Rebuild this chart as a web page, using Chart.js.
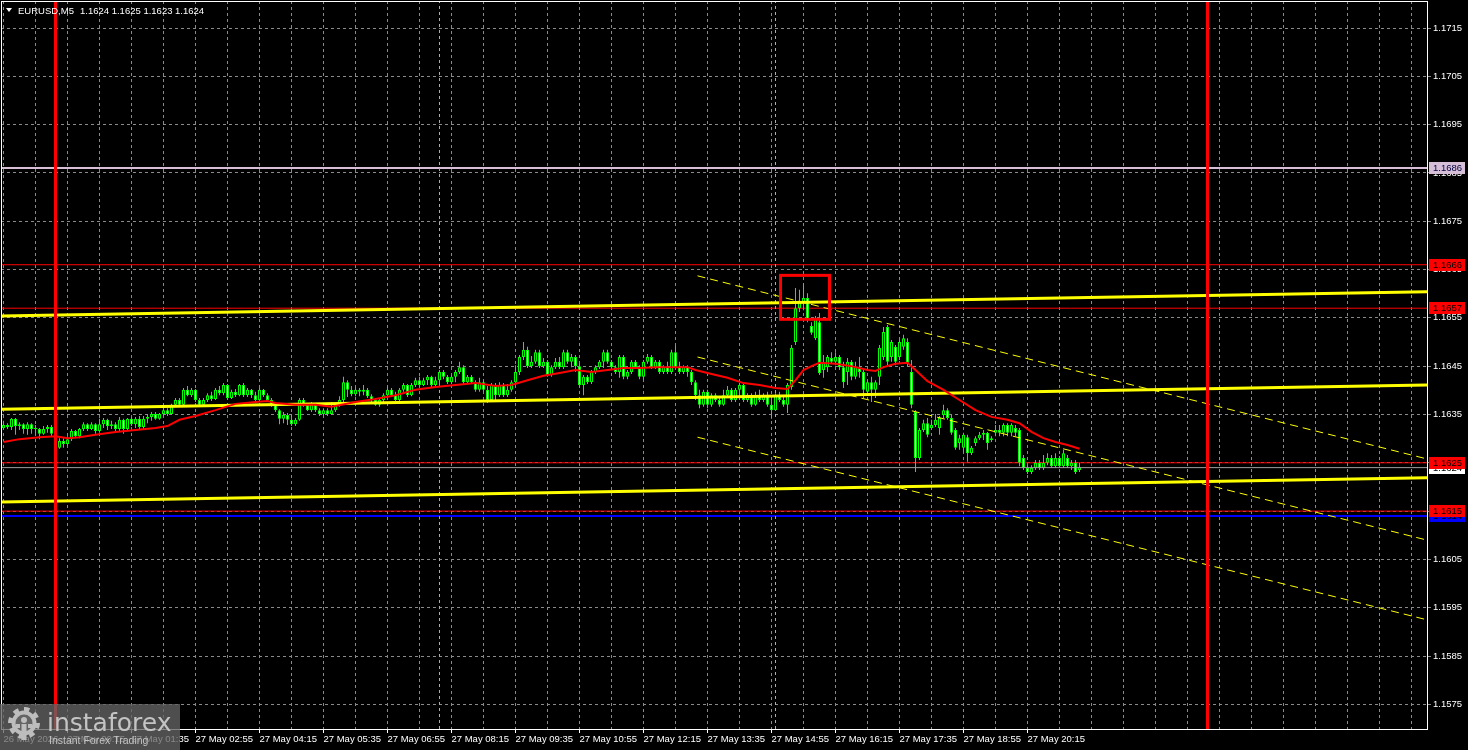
<!DOCTYPE html>
<html>
<head>
<meta charset="utf-8">
<script src="https://cdn.jsdelivr.net/npm/chart.js@4.4.1/dist/chart.umd.min.js"></script>
<style>html,body{margin:0;padding:0;background:#000;overflow:hidden}canvas{display:block}</style>
</head>
<body>
<canvas id="c" width="1468" height="750"></canvas>
<script>
// ---------------- data ----------------
const symbolTitle = 'EURUSD,M5';
const titleQuote = ['1.1624', '1.1625', '1.1623', '1.1624'];
// 5-minute bars, counted from 27 May 00:00 (bar 0); first bar is 26 May 22:55
const firstBar = -13;
const opens = [
1.16322,1.16328,1.16324,1.16341,1.16326,1.16330,1.16320,1.16330,1.16320,1.16320,
1.16310,1.16320,1.16324,1.16310,1.16281,1.16295,1.16289,1.16299,1.16316,1.16305,
1.16320,1.16330,1.16320,1.16330,1.16316,1.16330,1.16339,1.16326,1.16330,1.16320,
1.16339,1.16320,1.16341,1.16330,1.16341,1.16324,1.16341,1.16345,1.16351,1.16341,
1.16351,1.16359,1.16351,1.16370,1.16380,1.16370,1.16401,1.16390,1.16401,1.16380,
1.16370,1.16380,1.16390,1.16382,1.16401,1.16394,1.16411,1.16384,1.16397,1.16390,
1.16411,1.16390,1.16401,1.16390,1.16380,1.16401,1.16390,1.16380,1.16370,1.16359,
1.16341,1.16349,1.16339,1.16330,1.16339,1.16380,1.16370,1.16359,1.16370,1.16359,
1.16351,1.16359,1.16351,1.16359,1.16370,1.16380,1.16417,1.16401,1.16392,1.16401,
1.16397,1.16401,1.16388,1.16380,1.16370,1.16380,1.16390,1.16401,1.16390,1.16380,
1.16401,1.16411,1.16390,1.16411,1.16421,1.16411,1.16421,1.16428,1.16411,1.16421,
1.16438,1.16428,1.16417,1.16428,1.16438,1.16448,1.16417,1.16428,1.16417,1.16401,
1.16417,1.16401,1.16380,1.16411,1.16390,1.16411,1.16390,1.16401,1.16417,1.16438,
1.16469,1.16484,1.16450,1.16459,1.16479,1.16450,1.16459,1.16432,1.16448,1.16459,
1.16448,1.16479,1.16459,1.16469,1.16450,1.16411,1.16428,1.16417,1.16438,1.16448,
1.16459,1.16479,1.16459,1.16448,1.16438,1.16469,1.16428,1.16438,1.16459,1.16448,
1.16428,1.16459,1.16469,1.16448,1.16459,1.16438,1.16448,1.16438,1.16479,1.16448,
1.16438,1.16448,1.16438,1.16417,1.16390,1.16370,1.16397,1.16370,1.16390,1.16380,
1.16370,1.16390,1.16401,1.16380,1.16401,1.16411,1.16380,1.16390,1.16370,1.16390,
1.16380,1.16390,1.16370,1.16359,1.16390,1.16380,1.16370,1.16407,1.16500,1.16570,
1.16583,1.16591,1.16533,1.16508,1.16541,1.16442,1.16448,1.16467,1.16459,1.16469,
1.16448,1.16438,1.16459,1.16428,1.16448,1.16438,1.16397,1.16417,1.16401,1.16428,
1.16469,1.16531,1.16469,1.16490,1.16469,1.16490,1.16500,1.16438,1.16355,1.16260,
1.16318,1.16332,1.16322,1.16328,1.16322,1.16349,1.16359,1.16343,1.16318,1.16291,
1.16281,1.16303,1.16270,1.16291,1.16301,1.16308,1.16312,1.16301,1.16312,1.16318,
1.16312,1.16328,1.16312,1.16322,1.16318,1.16260,1.16239,1.16231,1.16239,1.16250,
1.16239,1.16250,1.16260,1.16243,1.16260,1.16243,1.16260,1.16243,1.16250,1.16235];
const highs = [
1.16337,1.16332,1.16343,1.16343,1.16334,1.16332,1.16334,1.16332,1.16328,1.16322,
1.16326,1.16328,1.16328,1.16312,1.16301,1.16301,1.16305,1.16320,1.16318,1.16322,
1.16334,1.16332,1.16334,1.16332,1.16341,1.16343,1.16341,1.16337,1.16334,1.16345,
1.16341,1.16343,1.16345,1.16345,1.16347,1.16347,1.16351,1.16355,1.16355,1.16353,
1.16366,1.16363,1.16372,1.16384,1.16384,1.16405,1.16409,1.16405,1.16403,1.16384,
1.16384,1.16394,1.16397,1.16405,1.16409,1.16415,1.16413,1.16401,1.16403,1.16413,
1.16415,1.16405,1.16403,1.16397,1.16405,1.16403,1.16394,1.16384,1.16374,1.16361,
1.16355,1.16353,1.16349,1.16343,1.16384,1.16384,1.16374,1.16376,1.16372,1.16363,
1.16363,1.16363,1.16376,1.16374,1.16388,1.16428,1.16421,1.16409,1.16407,1.16405,
1.16411,1.16405,1.16392,1.16384,1.16384,1.16394,1.16409,1.16405,1.16397,1.16405,
1.16415,1.16413,1.16415,1.16426,1.16428,1.16426,1.16432,1.16430,1.16428,1.16442,
1.16442,1.16432,1.16432,1.16442,1.16459,1.16452,1.16432,1.16432,1.16421,1.16426,
1.16421,1.16409,1.16415,1.16415,1.16417,1.16415,1.16413,1.16421,1.16452,1.16473,
1.16500,1.16490,1.16471,1.16484,1.16484,1.16467,1.16463,1.16452,1.16467,1.16469,
1.16484,1.16484,1.16475,1.16473,1.16455,1.16432,1.16432,1.16442,1.16452,1.16463,
1.16484,1.16484,1.16463,1.16452,1.16473,1.16473,1.16442,1.16463,1.16463,1.16452,
1.16463,1.16475,1.16473,1.16463,1.16463,1.16452,1.16459,1.16484,1.16492,1.16459,
1.16452,1.16452,1.16442,1.16421,1.16401,1.16401,1.16401,1.16394,1.16394,1.16384,
1.16401,1.16409,1.16405,1.16405,1.16415,1.16413,1.16394,1.16394,1.16397,1.16401,
1.16394,1.16397,1.16384,1.16394,1.16397,1.16390,1.16415,1.16494,1.16612,1.16608,
1.16622,1.16601,1.16541,1.16554,1.16560,1.16473,1.16473,1.16479,1.16479,1.16473,
1.16459,1.16467,1.16463,1.16459,1.16469,1.16442,1.16421,1.16428,1.16421,1.16494,
1.16531,1.16535,1.16504,1.16494,1.16508,1.16515,1.16508,1.16463,1.16359,1.16322,
1.16339,1.16343,1.16339,1.16351,1.16347,1.16370,1.16363,1.16349,1.16322,1.16308,
1.16312,1.16308,1.16285,1.16305,1.16314,1.16318,1.16314,1.16305,1.16328,1.16328,
1.16332,1.16332,1.16332,1.16328,1.16322,1.16266,1.16245,1.16245,1.16256,1.16256,
1.16266,1.16270,1.16266,1.16270,1.16264,1.16277,1.16266,1.16256,1.16256,1.16250];
const lows = [
1.16318,1.16320,1.16318,1.16308,1.16318,1.16310,1.16308,1.16310,1.16308,1.16299,
1.16308,1.16312,1.16305,1.16277,1.16279,1.16281,1.16285,1.16295,1.16301,1.16301,
1.16316,1.16316,1.16318,1.16310,1.16312,1.16322,1.16318,1.16320,1.16316,1.16316,
1.16310,1.16316,1.16326,1.16322,1.16318,1.16320,1.16332,1.16337,1.16339,1.16339,
1.16347,1.16347,1.16349,1.16368,1.16366,1.16368,1.16388,1.16386,1.16376,1.16366,
1.16368,1.16376,1.16378,1.16380,1.16390,1.16390,1.16380,1.16382,1.16386,1.16388,
1.16386,1.16386,1.16384,1.16376,1.16378,1.16386,1.16376,1.16366,1.16355,1.16330,
1.16332,1.16328,1.16326,1.16326,1.16337,1.16366,1.16357,1.16355,1.16355,1.16347,
1.16347,1.16347,1.16349,1.16355,1.16366,1.16376,1.16386,1.16388,1.16388,1.16388,
1.16390,1.16384,1.16376,1.16368,1.16366,1.16376,1.16386,1.16388,1.16378,1.16376,
1.16397,1.16386,1.16388,1.16407,1.16407,1.16409,1.16411,1.16407,1.16409,1.16409,
1.16423,1.16413,1.16413,1.16417,1.16434,1.16413,1.16413,1.16413,1.16397,1.16397,
1.16397,1.16374,1.16376,1.16380,1.16386,1.16386,1.16386,1.16397,1.16411,1.16432,
1.16463,1.16446,1.16446,1.16455,1.16446,1.16446,1.16428,1.16428,1.16444,1.16444,
1.16444,1.16455,1.16448,1.16438,1.16405,1.16390,1.16413,1.16413,1.16434,1.16444,
1.16446,1.16455,1.16444,1.16434,1.16426,1.16423,1.16423,1.16434,1.16444,1.16423,
1.16423,1.16455,1.16444,1.16444,1.16434,1.16434,1.16434,1.16434,1.16444,1.16434,
1.16434,1.16428,1.16411,1.16380,1.16363,1.16366,1.16363,1.16366,1.16376,1.16366,
1.16368,1.16386,1.16376,1.16376,1.16380,1.16376,1.16376,1.16366,1.16368,1.16376,
1.16376,1.16366,1.16341,1.16357,1.16376,1.16366,1.16353,1.16401,1.16494,1.16562,
1.16566,1.16541,1.16515,1.16504,1.16432,1.16426,1.16438,1.16455,1.16452,1.16442,
1.16405,1.16411,1.16421,1.16423,1.16426,1.16384,1.16390,1.16376,1.16384,1.16411,
1.16463,1.16452,1.16459,1.16452,1.16463,1.16484,1.16450,1.16363,1.16231,1.16256,
1.16314,1.16303,1.16318,1.16324,1.16308,1.16343,1.16339,1.16308,1.16277,1.16277,
1.16272,1.16252,1.16266,1.16285,1.16297,1.16297,1.16277,1.16293,1.16305,1.16305,
1.16305,1.16305,1.16305,1.16305,1.16243,1.16235,1.16227,1.16227,1.16235,1.16235,
1.16235,1.16245,1.16239,1.16239,1.16239,1.16239,1.16239,1.16235,1.16227,1.16231];
const closes = [
1.16328,1.16324,1.16341,1.16326,1.16330,1.16320,1.16330,1.16320,1.16320,1.16310,
1.16320,1.16324,1.16310,1.16281,1.16295,1.16289,1.16299,1.16316,1.16305,1.16320,
1.16330,1.16320,1.16330,1.16316,1.16330,1.16339,1.16326,1.16330,1.16320,1.16339,
1.16320,1.16341,1.16330,1.16341,1.16324,1.16341,1.16345,1.16351,1.16341,1.16351,
1.16359,1.16351,1.16370,1.16380,1.16370,1.16401,1.16390,1.16401,1.16380,1.16370,
1.16380,1.16390,1.16382,1.16401,1.16394,1.16411,1.16384,1.16397,1.16390,1.16411,
1.16390,1.16401,1.16390,1.16380,1.16401,1.16390,1.16380,1.16370,1.16359,1.16341,
1.16349,1.16339,1.16330,1.16339,1.16380,1.16370,1.16359,1.16370,1.16359,1.16351,
1.16359,1.16351,1.16359,1.16370,1.16380,1.16417,1.16401,1.16392,1.16401,1.16397,
1.16401,1.16388,1.16380,1.16370,1.16380,1.16390,1.16401,1.16390,1.16380,1.16401,
1.16411,1.16390,1.16411,1.16421,1.16411,1.16421,1.16428,1.16411,1.16421,1.16438,
1.16428,1.16417,1.16428,1.16438,1.16448,1.16417,1.16428,1.16417,1.16401,1.16417,
1.16401,1.16380,1.16411,1.16390,1.16411,1.16390,1.16401,1.16417,1.16438,1.16469,
1.16484,1.16450,1.16459,1.16479,1.16450,1.16459,1.16432,1.16448,1.16459,1.16448,
1.16479,1.16459,1.16469,1.16450,1.16411,1.16428,1.16417,1.16438,1.16448,1.16459,
1.16479,1.16459,1.16448,1.16438,1.16469,1.16428,1.16438,1.16459,1.16448,1.16428,
1.16459,1.16469,1.16448,1.16459,1.16438,1.16448,1.16438,1.16479,1.16448,1.16438,
1.16448,1.16438,1.16417,1.16390,1.16370,1.16397,1.16370,1.16390,1.16380,1.16370,
1.16390,1.16401,1.16380,1.16401,1.16411,1.16380,1.16390,1.16370,1.16390,1.16380,
1.16390,1.16370,1.16359,1.16390,1.16380,1.16370,1.16411,1.16488,1.16570,1.16583,
1.16591,1.16546,1.16519,1.16550,1.16436,1.16459,1.16469,1.16459,1.16469,1.16448,
1.16417,1.16459,1.16428,1.16448,1.16438,1.16401,1.16417,1.16401,1.16417,1.16488,
1.16521,1.16459,1.16500,1.16459,1.16500,1.16508,1.16457,1.16370,1.16260,1.16318,
1.16332,1.16308,1.16328,1.16339,1.16343,1.16359,1.16343,1.16312,1.16281,1.16301,
1.16308,1.16270,1.16281,1.16301,1.16308,1.16312,1.16291,1.16297,1.16318,1.16312,
1.16328,1.16312,1.16328,1.16312,1.16250,1.16239,1.16231,1.16239,1.16250,1.16239,
1.16250,1.16260,1.16243,1.16260,1.16243,1.16270,1.16243,1.16250,1.16231,1.16241];

// moving average (red line), read at sample bars
const maBars = [-13,-9,-4,0,3,6,10,15,20,25,28,31,35,40,45,50,53,55,60,65,69,75,80,85,90,95,100,105,110,114,118,122,126,130,134,138,142,146,150,154,158,160,164,168,172,176,180,183,185,187,189,191,195,199,203,205,207,210,213,215,218,222,226,230,234,238,241,244,247,250,253,256];
const maValues = [1.16293,1.16299,1.16303,1.16305,1.16301,1.16303,1.16308,1.16314,1.16318,1.16322,1.16326,1.16339,1.16347,1.16359,1.16372,1.16376,1.16378,1.16374,1.16370,1.16370,1.16366,1.16376,1.16382,1.16390,1.16401,1.16407,1.16411,1.16415,1.16409,1.16411,1.16421,1.16430,1.16436,1.16442,1.16438,1.16442,1.16446,1.16446,1.16448,1.16448,1.16448,1.16442,1.16434,1.16426,1.16415,1.16411,1.16405,1.16403,1.16421,1.16442,1.16450,1.16457,1.16455,1.16450,1.16442,1.16440,1.16448,1.16455,1.16457,1.16442,1.16419,1.16401,1.16380,1.16359,1.16345,1.16339,1.16332,1.16314,1.16301,1.16293,1.16287,1.16279];

// ascending channel (thick yellow) end points
const channelBars = [-13.625, 342.875];
const channelTop = [1.16554, 1.16604];
const channelMid = [1.16361, 1.16411];
const channelLow = [1.16169, 1.16219];
// descending channel (thin dashed yellow)
const downBars = [160.5, 342.875];
const downTop = [1.16637, 1.16258];
const downMid = [1.16469, 1.16090];
const downLow = [1.16303, 1.15925];

// horizontal levels
const redLevels = [1.1666, 1.1657, 1.1625, 1.1615];
const pinkLevel = 1.1686;
const blueLevel = 1.1614;
const bidLevel = 1.1624;

// vertical markers
const dayBreakBars = [0, 288];
const sessionBars = [96, 180];

// highlighted box (bars, prices)
const highlightBars = [181.25, 193.5];
const highlightPrices = [1.16638, 1.16547];

// axis ticks
const yTicks = [1.1575,1.1585,1.1595,1.1605,1.1615,1.1625,1.1635,1.1645,1.1655,1.1665,1.1675,1.1685,1.1695,1.1705,1.1715];
const xTickBars = [-13,3,19,35,51,67,83,99,115,131,147,163,179,195,211,227,243];
const xTickLabels = ['26 May 2026','27 May 00:15','27 May 01:35','27 May 02:55','27 May 04:15','27 May 05:35','27 May 06:55','27 May 08:15','27 May 09:35','27 May 10:55','27 May 12:15','27 May 13:35','27 May 14:55','27 May 16:15','27 May 17:35','27 May 18:55','27 May 20:15'];

// ---------------- layout ----------------
const X_MIN = -13.625, X_MAX = 342.875;
const Y_MIN = 1.15699, Y_MAX = 1.172059;
const xGridBars = [];
for (let b = -13; b <= 339; b += 8) xGridBars.push(b);

const LIME = '#00ff00';
const FONT = 'Liberation Sans';
Chart.defaults.font.family = FONT;

const barX = opens.map((_, k) => firstBar + k);
const wickData = barX.map((x, k) => ({x, y: [lows[k], highs[k]]}));
const bodyData = barX.map((x, k) => ({x, y: [opens[k], closes[k]]}));
const bodyFill = barX.map((x, k) => closes[k] >= opens[k] ? '#000000' : '#ffffff');

const hLine = (v, color, w, order) => ({type: 'line', data: [{x: X_MIN, y: v}, {x: X_MAX, y: v}], borderColor: color, borderWidth: w, pointRadius: 0, order});
const vLine = (b, color, w, dash, order) => ({type: 'line', data: [{x: b, y: Y_MIN}, {x: b, y: Y_MAX}], borderColor: color, borderWidth: w, borderDash: dash, pointRadius: 0, order});
const seg = (bs, vs, color, w, dash, order) => ({type: 'line', data: bs.map((b, k) => ({x: b, y: vs[k]})), borderColor: color, borderWidth: w, borderDash: dash, pointRadius: 0, tension: 0, order});

const datasets = [
  ...redLevels.map(v => hLine(v, '#ff0000', 1, 30)),
  hLine(pinkLevel, '#d8bfd8', 2, 30),
  hLine(blueLevel, '#0000ff', 2, 30),
  ...sessionBars.map(b => vLine(b, '#9acd32', 1, [3, 3], 29)),
  {type: 'bar', data: wickData, backgroundColor: LIME, borderWidth: 0, barThickness: 1, grouped: false, inflateAmount: 0, order: 25},
  {type: 'bar', data: bodyData, backgroundColor: bodyFill, borderColor: LIME, borderWidth: 1, borderSkipped: false, barThickness: 3, grouped: false, inflateAmount: 0, minBarLength: 1, order: 24},
  hLine(bidLevel, '#a0a0a0', 1, 23),
  seg(channelBars, channelTop, '#ffff00', 3, [], 20),
  seg(channelBars, channelMid, '#ffff00', 3, [], 20),
  seg(channelBars, channelLow, '#ffff00', 3, [], 20),
  seg(downBars, downTop, '#ffff00', 1, [8, 5], 19),
  seg(downBars, downMid, '#ffff00', 1, [8, 5], 19),
  seg(downBars, downLow, '#ffff00', 1, [8, 5], 19),
  seg(maBars, maValues, '#ff0000', 2, [], 15),
  ...dayBreakBars.map(b => vLine(b, '#ff0000', 3, [], 10))
];

function drawGear(ctx, cx, cy, color, hole) {
  const teeth = 8, rOut = 16, rIn = 12.5;
  ctx.fillStyle = color;
  ctx.beginPath();
  for (let k = 0; k < teeth * 2; k++) {
    const a0 = (k / (teeth * 2)) * Math.PI * 2 - Math.PI / 2;
    const a1 = ((k + 1) / (teeth * 2)) * Math.PI * 2 - Math.PI / 2;
    ctx.arc(cx, cy, k % 2 === 0 ? rOut : rIn, a0, a1);
  }
  ctx.closePath();
  ctx.fill();
  ctx.fillStyle = hole;
  ctx.beginPath(); ctx.arc(cx, cy, 8.5, 0, Math.PI * 2); ctx.fill();
  ctx.fillStyle = color;
  ctx.beginPath(); ctx.arc(cx, cy - 3, 3, 0, Math.PI * 2); ctx.fill();
  ctx.fillRect(cx - 2.5, cy + 1, 5, 16);
  ctx.fillRect(cx - 8, cy + 1, 4, 4);
  ctx.fillRect(cx + 4, cy + 1, 4, 4);
}

const overlay = {
  id: 'overlay',
  beforeDraw(chart) {
    const ctx = chart.ctx;
    ctx.save(); ctx.fillStyle = '#000'; ctx.fillRect(0, 0, chart.width, chart.height); ctx.restore();
  },
  afterDraw(chart) {
    const {ctx, chartArea: a, scales: {x, y}} = chart;
    ctx.save();
    // highlight rectangle
    const rx0 = x.getPixelForValue(highlightBars[0]), rx1 = x.getPixelForValue(highlightBars[1]);
    const ry0 = y.getPixelForValue(highlightPrices[0]), ry1 = y.getPixelForValue(highlightPrices[1]);
    ctx.strokeStyle = '#ff0000'; ctx.lineWidth = 3;
    ctx.strokeRect(rx0, ry0, rx1 - rx0, ry1 - ry0);
    // frame
    ctx.strokeStyle = '#ffffff'; ctx.lineWidth = 1;
    ctx.strokeRect(a.left + 0.5, a.top + 0.5, a.right - a.left, a.bottom - a.top);
    // title
    ctx.fillStyle = '#ffffff';
    ctx.beginPath(); ctx.moveTo(6, 8); ctx.lineTo(12, 8); ctx.lineTo(9, 12); ctx.closePath(); ctx.fill();
    ctx.font = '9.5px "' + FONT + '"';
    ctx.textBaseline = 'middle'; ctx.textAlign = 'left';
    ctx.fillText(symbolTitle, 18, 11);
    ctx.fillText(titleQuote.join(' '), 80, 11);
    // price tags on the right axis
    const tag = (v, bg, fg) => {
      const py = Math.round(y.getPixelForValue(v));
      ctx.fillStyle = bg; ctx.fillRect(a.right + 2, py - 6, 36, 12);
      ctx.fillStyle = fg; ctx.fillText(v.toFixed(4), a.right + 6, py + 0.5);
    };
    tag(bidLevel, '#ffffff', '#000000');
    tag(blueLevel, '#0000ff', '#000000');
    tag(pinkLevel, '#d8bfd8', '#000040');
    redLevels.forEach(v => tag(v, '#ff0000', '#000000'));
    // watermark
    ctx.fillStyle = 'rgba(100,100,100,0.78)';
    ctx.fillRect(0, 704, 180, 46);
    drawGear(ctx, 24, 723, '#bdbdbd', 'rgba(100,100,100,1)');
    ctx.fillStyle = '#c4c4c4';
    ctx.font = '25px "DejaVu Sans"';
    ctx.textBaseline = 'alphabetic';
    ctx.fillText('instaforex', 47, 731);
    ctx.font = '10.5px "' + FONT + '"';
    ctx.textBaseline = 'middle';
    ctx.fillText('Instant Forex Trading', 49, 741);
    ctx.restore();
  }
};

new Chart(document.getElementById('c'), {
  type: 'bar',
  data: {datasets},
  options: {
    responsive: false,
    animation: false,
    devicePixelRatio: 1,
    events: [],
    layout: {padding: {left: 1, top: 1, right: 0, bottom: 0}},
    plugins: {legend: {display: false}, tooltip: {enabled: false}},
    scales: {
      x: {
        type: 'linear', min: X_MIN, max: X_MAX, offset: false,
        afterBuildTicks: s => { s.ticks = xGridBars.map(v => ({value: v})); },
        afterFit: s => { s.height = 21; s.paddingLeft = 0; s.paddingRight = 0; },
        ticks: {
          autoSkip: false, maxRotation: 0, minRotation: 0, align: 'start', color: '#ffffff',
          font: {size: 9.5}, padding: 1,
          callback: v => { const k = xTickBars.indexOf(v); return k < 0 ? '' : xTickLabels[k]; }
        },
        grid: {
          offset: false, color: '#8a8a8a', lineWidth: 1, drawTicks: true, tickLength: 4,
          tickColor: c => (c.tick && xTickBars.includes(c.tick.value)) ? '#ffffff' : 'rgba(0,0,0,0)',
          tickBorderDash: [4, 0]
        },
        border: {display: true, color: '#ffffff', width: 1, dash: [3, 3]}
      },
      y: {
        type: 'linear', position: 'right', min: Y_MIN, max: Y_MAX, beginAtZero: false,
        afterBuildTicks: s => { s.ticks = yTicks.map(v => ({value: v})); },
        afterFit: s => { s.width = 41; s.paddingTop = 0; s.paddingBottom = 0; },
        ticks: {color: '#ffffff', font: {size: 9.5}, padding: 2, callback: v => v.toFixed(4)},
        grid: {color: '#8a8a8a', lineWidth: 1, tickLength: 4, tickColor: '#8a8a8a', tickBorderDash: [3, 3]},
        border: {display: true, color: '#ffffff', width: 1, dash: [3, 3]}
      }
    }
  },
  plugins: [overlay]
});
</script>
</body>
</html>
